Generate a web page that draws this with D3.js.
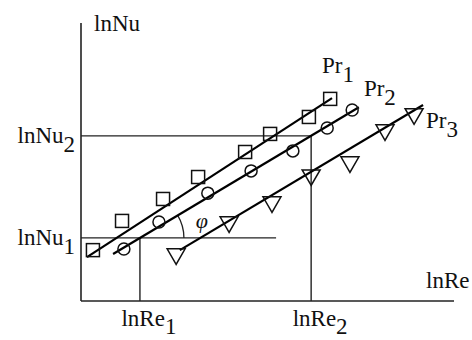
<!DOCTYPE html>
<html>
<head>
<meta charset="utf-8">
<script src="https://cdn.jsdelivr.net/npm/d3@7"></script>
<style>
  html, body { margin: 0; padding: 0; background: #fff; }
  svg { display: block; }
  text { font-family: "Liberation Serif", "Times New Roman", serif; fill: #111; }
</style>
</head>
<body>
<svg id="chart" width="472" height="340"></svg>
<script>
// Nusselt vs Reynolds in log coordinates (schematic units, 0..100 on each axis)
const pr1Points = [[3.2, 18.3], [11.0, 28.8], [22.0, 36.7], [31.4, 44.6], [44.0, 53.6], [50.7, 60.1], [61.1, 66.2], [66.8, 72.7]];
const pr2Points = [[11.5, 18.7], [20.9, 28.4], [34.0, 38.8], [45.6, 46.8], [56.8, 54.0], [66.0, 62.2], [72.7, 68.7]];
const pr3Points = [[25.5, 16.9], [39.7, 28.4], [51.2, 35.6], [61.7, 45.3], [72.1, 50.0], [81.5, 61.5], [89.3, 67.3]];

// fitted straight lines (start, end)
const pr1Line = [[1.6, 15.8], [67.3, 73.0]];
const pr2Line = [[8.6, 16.9], [74.5, 69.7]];
const pr3Line = [[26.5, 18.3], [91.7, 70.5]];

const seriesNames = ["1", "2", "3"];

// reference readings on the Pr2 line
const lnRe = [15.8, 61.7];
const lnNu = [22.7, 59.4];
const refSubs = ["1", "2"];
const lnNu1LineEnd = 52.3;

const svg = d3.select("#chart");
const x = d3.scaleLinear().domain([0, 100]).range([81, 454]);
const y = d3.scaleLinear().domain([0, 100]).range([301, 23]);

// axes
svg.append("line").attr("x1", x(0)).attr("x2", x(0)).attr("y1", y(0)).attr("y2", y(100))
  .attr("stroke", "#222").attr("stroke-width", 1.6);
svg.append("line").attr("x1", x(0)).attr("x2", x(100)).attr("y1", y(0)).attr("y2", y(0))
  .attr("stroke", "#222").attr("stroke-width", 1.6);

// reference guide lines
const guides = svg.append("g").attr("stroke", "#222").attr("stroke-width", 1.4);
guides.append("line").attr("x1", x(0)).attr("x2", x(lnNu1LineEnd)).attr("y1", y(lnNu[0])).attr("y2", y(lnNu[0]));
guides.append("line").attr("x1", x(0)).attr("x2", x(lnRe[1])).attr("y1", y(lnNu[1])).attr("y2", y(lnNu[1]));
guides.append("line").attr("x1", x(lnRe[0])).attr("x2", x(lnRe[0])).attr("y1", y(lnNu[0])).attr("y2", y(0));
guides.append("line").attr("x1", x(lnRe[1])).attr("x2", x(lnRe[1])).attr("y1", y(lnNu[1])).attr("y2", y(0));

// angle arc between lnNu1 guide and Pr2 line
const cx = x(lnRe[0]), cy = y(lnNu[0]);
const ang = Math.atan2(-(y(pr2Line[1][1]) - y(pr2Line[0][1])), x(pr2Line[1][0]) - x(pr2Line[0][0]));
const r = 44;
const arc = d3.path();
arc.moveTo(cx + r, cy);
arc.arc(cx, cy, r, 0, -ang, true);
svg.append("path").attr("d", arc.toString()).attr("fill", "none").attr("stroke", "#222").attr("stroke-width", 1.3);
svg.append("text").attr("x", cx + 62).attr("y", cy - 10).attr("font-size", 22)
  .attr("font-style", "italic").attr("text-anchor", "middle").text("φ");

// fitted lines
const lineGen = d3.line().x(d => x(d[0])).y(d => y(d[1]));
[pr1Line, pr2Line, pr3Line].forEach(l => {
  svg.append("path").attr("d", lineGen(l)).attr("fill", "none")
    .attr("stroke", "#000").attr("stroke-width", 2.2);
});

// markers
const mk = svg.append("g").attr("fill", "none").attr("stroke", "#111").attr("stroke-width", 1.5);
mk.selectAll("rect.sq").data(pr1Points).join("rect").attr("class", "sq")
  .attr("x", d => x(d[0]) - 6.5).attr("y", d => y(d[1]) - 6.5).attr("width", 13).attr("height", 13);
mk.selectAll("circle.ci").data(pr2Points).join("circle").attr("class", "ci")
  .attr("cx", d => x(d[0])).attr("cy", d => y(d[1])).attr("r", 6);
const tri = d3.symbol().type(d3.symbolTriangle).size(140);
mk.selectAll("path.tr").data(pr3Points).join("path").attr("class", "tr")
  .attr("d", tri).attr("transform", d => `translate(${x(d[0])},${y(d[1])}) rotate(180)`);

// label helper: main text with lowered subscript
function label(px, py, main, sub, anchor, dy) {
  const t = svg.append("text").attr("x", px).attr("y", py).attr("font-size", 23)
    .attr("text-anchor", anchor || "start");
  t.append("tspan").text(main);
  if (sub) t.append("tspan").attr("dy", dy || 9).text(sub);
  return t;
}

// axis titles
label(x(0) + 13, y(100) + 8, "lnNu");
label(x(100) - 28, y(0) - 13, "lnRe");

// y reference labels
lnNu.forEach((v, i) => label(x(0) - 6, y(v) + 7, "lnNu", refSubs[i], "end", 9));
// x reference labels
lnRe.forEach((v, i) => label(x(v) + 9, y(0) + 25, "lnRe", refSubs[i], "middle", 8));

// series labels at line ends
[pr1Line, pr2Line, pr3Line].forEach((l, i) => {
  const end = l[1];
  const offs = [[-10, -25], [5, -11], [3, 23]][i];
  label(x(end[0]) + offs[0], y(end[1]) + offs[1], "Pr", seriesNames[i], "start", 9);
});
</script>
</body>
</html>
